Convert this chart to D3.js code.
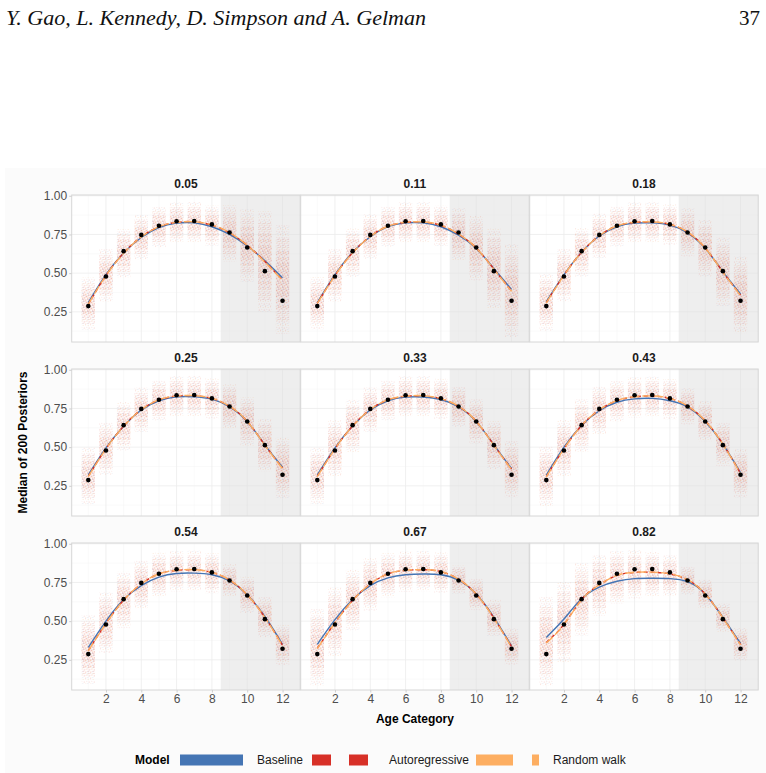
<!DOCTYPE html>
<html>
<head>
<meta charset="utf-8">
<script src="https://cdn.jsdelivr.net/npm/d3@7"></script>
<style>
  body { margin: 0; background: #fff; }
  svg { display: block; }
  text { font-family: "Liberation Sans", Arial, sans-serif; }
</style>
</head>
<body>
<div id="chart"></div>
<script>
// ---- data ----
var ages = [1, 2, 3, 4, 5, 6, 7, 8, 9, 10, 11, 12];
var panelLabels = ["0.05", "0.11", "0.18", "0.25", "0.33", "0.43", "0.54", "0.67", "0.82"];
var observed = [0.287, 0.478, 0.642, 0.747, 0.806, 0.835, 0.837, 0.815, 0.763, 0.666, 0.513, 0.322];

var baseline = [
  [0.31, 0.49, 0.63, 0.73, 0.795, 0.823, 0.825, 0.80, 0.75, 0.675, 0.58, 0.47],
  [0.31, 0.49, 0.635, 0.735, 0.80, 0.825, 0.825, 0.80, 0.745, 0.66, 0.53, 0.395],
  [0.315, 0.49, 0.635, 0.74, 0.80, 0.823, 0.825, 0.81, 0.76, 0.66, 0.51, 0.365],
  [0.32, 0.495, 0.635, 0.74, 0.80, 0.825, 0.826, 0.81, 0.76, 0.665, 0.515, 0.37],
  [0.32, 0.495, 0.636, 0.74, 0.80, 0.823, 0.824, 0.808, 0.76, 0.665, 0.515, 0.362],
  [0.32, 0.50, 0.64, 0.735, 0.79, 0.812, 0.815, 0.80, 0.76, 0.665, 0.52, 0.335],
  [0.33, 0.50, 0.64, 0.73, 0.785, 0.808, 0.81, 0.80, 0.76, 0.67, 0.53, 0.35],
  [0.35, 0.51, 0.64, 0.73, 0.78, 0.80, 0.805, 0.80, 0.765, 0.675, 0.525, 0.34],
  [0.395, 0.514, 0.644, 0.72, 0.758, 0.775, 0.777, 0.775, 0.755, 0.676, 0.524, 0.356]
];
var autoregressive = [
  [0.30, 0.485, 0.63, 0.735, 0.80, 0.828, 0.832, 0.81, 0.76, 0.68, 0.575, 0.455],
  [0.305, 0.485, 0.632, 0.738, 0.803, 0.828, 0.83, 0.808, 0.752, 0.662, 0.527, 0.385],
  [0.31, 0.487, 0.635, 0.742, 0.805, 0.828, 0.83, 0.815, 0.765, 0.662, 0.508, 0.358],
  [0.312, 0.49, 0.636, 0.742, 0.805, 0.83, 0.832, 0.815, 0.763, 0.667, 0.513, 0.365],
  [0.312, 0.49, 0.637, 0.743, 0.805, 0.829, 0.831, 0.813, 0.763, 0.667, 0.513, 0.358],
  [0.31, 0.49, 0.64, 0.74, 0.80, 0.825, 0.83, 0.815, 0.765, 0.67, 0.52, 0.33],
  [0.31, 0.485, 0.635, 0.74, 0.805, 0.828, 0.832, 0.815, 0.765, 0.67, 0.525, 0.345],
  [0.325, 0.49, 0.635, 0.74, 0.805, 0.828, 0.832, 0.82, 0.77, 0.675, 0.52, 0.335],
  [0.362, 0.48, 0.64, 0.735, 0.795, 0.815, 0.816, 0.805, 0.767, 0.676, 0.522, 0.35]
];
var randomWalk = [
  [0.30, 0.484, 0.628, 0.734, 0.80, 0.828, 0.832, 0.812, 0.762, 0.68, 0.572, 0.452],
  [0.304, 0.484, 0.631, 0.737, 0.803, 0.829, 0.831, 0.81, 0.753, 0.662, 0.525, 0.382],
  [0.308, 0.486, 0.634, 0.741, 0.805, 0.829, 0.831, 0.816, 0.766, 0.662, 0.507, 0.355],
  [0.31, 0.489, 0.635, 0.742, 0.806, 0.831, 0.833, 0.816, 0.764, 0.667, 0.512, 0.362],
  [0.31, 0.489, 0.636, 0.743, 0.806, 0.83, 0.832, 0.814, 0.764, 0.667, 0.512, 0.355],
  [0.308, 0.489, 0.64, 0.741, 0.802, 0.826, 0.831, 0.816, 0.766, 0.67, 0.519, 0.328],
  [0.308, 0.484, 0.635, 0.741, 0.806, 0.829, 0.833, 0.816, 0.766, 0.67, 0.524, 0.342],
  [0.322, 0.488, 0.634, 0.741, 0.806, 0.829, 0.833, 0.821, 0.771, 0.675, 0.519, 0.332],
  [0.358, 0.478, 0.638, 0.735, 0.796, 0.816, 0.817, 0.806, 0.768, 0.676, 0.521, 0.347]
];
// half-height of the posterior cloud at each age
var cloudSpread = [
  [0.13, 0.13, 0.12, 0.11, 0.10, 0.10, 0.10, 0.10, 0.14, 0.18, 0.25, 0.27],
  [0.13, 0.13, 0.12, 0.11, 0.10, 0.10, 0.10, 0.10, 0.13, 0.16, 0.20, 0.23],
  [0.14, 0.13, 0.12, 0.11, 0.10, 0.10, 0.10, 0.10, 0.12, 0.14, 0.17, 0.19],
  [0.14, 0.13, 0.12, 0.11, 0.10, 0.10, 0.10, 0.10, 0.11, 0.12, 0.13, 0.15],
  [0.14, 0.14, 0.13, 0.11, 0.10, 0.10, 0.10, 0.10, 0.10, 0.11, 0.12, 0.14],
  [0.15, 0.14, 0.13, 0.12, 0.10, 0.10, 0.10, 0.10, 0.09, 0.10, 0.11, 0.12],
  [0.17, 0.15, 0.14, 0.12, 0.11, 0.10, 0.10, 0.10, 0.08, 0.09, 0.10, 0.10],
  [0.19, 0.17, 0.15, 0.13, 0.11, 0.10, 0.10, 0.10, 0.07, 0.08, 0.09, 0.09],
  [0.22, 0.20, 0.18, 0.15, 0.13, 0.12, 0.11, 0.10, 0.07, 0.07, 0.07, 0.08]
];
var heldOutFrom = 8.5;
var xTicks = [2, 4, 6, 8, 10, 12];
var yTicks = [0.25, 0.50, 0.75, 1.00];

var models = [
  {name: "Baseline", values: baseline, color: "#4575b4", dash: null},
  {name: "Autoregressive", values: autoregressive, color: "#d73027", dash: "4,3"},
  {name: "Random walk", values: randomWalk, color: "#fdae61", dash: "9,3"}
];

// ---- layout ----
var W = 766, H = 773;
var colLeft = [71.7, 300.7, 529.7], panelW = 228.5;
var rowTop = [195, 369, 543], panelH = 147;

var svg = d3.select("#chart").append("svg")
  .attr("width", W).attr("height", H);

svg.append("rect").attr("x", 5).attr("y", 168).attr("width", W - 5).attr("height", H - 168)
  .attr("fill", "#fbfbfb");

// page header
svg.append("text").attr("x", 6).attr("y", 25)
  .style("font-family", "'Liberation Serif', 'DejaVu Serif', serif")
  .style("font-style", "italic").style("font-size", "21px").attr("fill", "#111")
  .attr("textLength", 420).attr("lengthAdjust", "spacingAndGlyphs")
  .text("Y. Gao, L. Kennedy, D. Simpson and A. Gelman");
svg.append("text").attr("x", 760).attr("y", 25).attr("text-anchor", "end")
  .style("font-family", "'Liberation Serif', 'DejaVu Serif', serif")
  .style("font-size", "21px").attr("fill", "#111").text("37");

// speckle patterns for the posterior draws
var defs = svg.append("defs");
var speckColors = ["#e0533d", "#f7a35c", "#e98b8b", "#d73027", "#f4a582", "#9aa7d0"];
var layers = [[1.3, 0.28], [1.0, 0.42], [0.7, 0.45], [0.42, 0.45]];
[[0, 0], [1.6, 2.1], [3.1, 0.9], [2.2, 4.1]].forEach(function (off, k) {
  var p = defs.append("pattern").attr("id", "speck" + k)
    .attr("patternUnits", "userSpaceOnUse").attr("width", 5).attr("height", 6)
    .attr("patternTransform", "translate(" + off[0] + "," + off[1] + ")");
  [[0.6, 0.7], [3.1, 1.4], [1.8, 3.3], [4.2, 4.0], [0.9, 5.2], [2.9, 5.6]].forEach(function (d, i) {
    p.append("circle").attr("cx", d[0]).attr("cy", d[1]).attr("r", 0.5)
      .attr("fill", speckColors[(i + k) % speckColors.length]);
  });
});

var x = d3.scaleLinear().domain([0.06, 13.0]);
var y = d3.scaleLinear().domain([0.055, 1.005]);

panelLabels.forEach(function (label, p) {
  var col = p % 3, row = Math.floor(p / 3);
  var x0 = colLeft[col], y0 = rowTop[row];
  x.range([x0, x0 + panelW]);
  y.range([y0 + panelH, y0]);
  var g = svg.append("g");

  g.append("rect").attr("x", x0).attr("y", y0).attr("width", panelW).attr("height", panelH)
    .attr("fill", "#fff");

  // minor / major grid
  var minorX = [1, 3, 5, 7, 9, 11, 13], minorY = [0.125, 0.375, 0.625, 0.875];
  g.selectAll(".mx").data(minorX).enter().append("line")
    .attr("x1", d => x(d)).attr("x2", d => x(d)).attr("y1", y0).attr("y2", y0 + panelH)
    .attr("stroke", "#f4f4f4").attr("stroke-width", 0.5);
  g.selectAll(".my").data(minorY).enter().append("line")
    .attr("y1", d => y(d)).attr("y2", d => y(d)).attr("x1", x0).attr("x2", x0 + panelW)
    .attr("stroke", "#f4f4f4").attr("stroke-width", 0.5);
  g.selectAll(".gx").data(xTicks).enter().append("line")
    .attr("x1", d => x(d)).attr("x2", d => x(d)).attr("y1", y0).attr("y2", y0 + panelH)
    .attr("stroke", "#ececec").attr("stroke-width", 0.8);
  g.selectAll(".gy").data(yTicks).enter().append("line")
    .attr("y1", d => y(d)).attr("y2", d => y(d)).attr("x1", x0).attr("x2", x0 + panelW)
    .attr("stroke", "#ececec").attr("stroke-width", 0.8);

  // held-out region
  g.append("rect").attr("x", x(heldOutFrom)).attr("y", y0)
    .attr("width", x0 + panelW - x(heldOutFrom)).attr("height", panelH)
    .attr("fill", "#dedede").attr("fill-opacity", 0.5);

  // posterior clouds
  var centers = ages.map(function (a, i) {
    return (baseline[p][i] + autoregressive[p][i] + randomWalk[p][i]) / 3;
  });
  layers.forEach(function (L, k) {
    var f = L[0];
    g.selectAll(".cloud" + k).data(ages).enter().append("rect")
      .attr("x", d => x(d - 0.38)).attr("width", d => x(d + 0.38) - x(d - 0.38))
      .attr("y", (d, i) => y(Math.min(1.0, centers[i] + cloudSpread[p][i] * f)))
      .attr("height", (d, i) => y(centers[i] - cloudSpread[p][i] * f) - y(Math.min(1.0, centers[i] + cloudSpread[p][i] * f)))
      .attr("fill", "url(#speck" + k + ")").attr("opacity", L[1]);
  });

  // model curves
  models.forEach(function (m) {
    var line = d3.line().curve(d3.curveNatural)
      .x((d, i) => x(ages[i])).y(d => y(d));
    g.append("path").attr("d", line(m.values[p]))
      .attr("fill", "none").attr("stroke", m.color).attr("stroke-width", 1.4)
      .attr("stroke-dasharray", m.dash);
  });

  // observed medians
  g.selectAll(".obs").data(observed).enter().append("circle")
    .attr("cx", (d, i) => x(ages[i])).attr("cy", d => y(d)).attr("r", 2.3)
    .attr("fill", "#000");

  g.append("rect").attr("x", x0).attr("y", y0).attr("width", panelW).attr("height", panelH)
    .attr("fill", "none").attr("stroke", "#d6d6d6").attr("stroke-width", 1);

  // strip title
  svg.append("text").attr("x", x0 + panelW / 2).attr("y", y0 - 7)
    .attr("text-anchor", "middle").style("font-weight", "bold").style("font-size", "12px")
    .attr("fill", "#1a1a1a").text(label);

  // axes
  if (col === 0) {
    var ya = svg.append("g").attr("transform", "translate(" + x0 + ",0)")
      .call(d3.axisLeft(y).tickValues(yTicks).tickFormat(d3.format(".2f")).tickSize(2.5).tickPadding(2));
    ya.select(".domain").remove();
    ya.selectAll("line").attr("stroke", "#cfcfcf");
    ya.selectAll("text").style("fill", "#4d4d4d").style("font-size", "12px")
      .style("font-family", "'Liberation Sans', Arial, sans-serif");
  }
  if (row === 2) {
    var xa = svg.append("g").attr("transform", "translate(0," + (y0 + panelH) + ")")
      .call(d3.axisBottom(x).tickValues(xTicks).tickSize(2.5).tickPadding(2));
    xa.select(".domain").remove();
    xa.selectAll("line").attr("stroke", "#cfcfcf");
    xa.selectAll("text").style("fill", "#4d4d4d").style("font-size", "12px")
      .style("font-family", "'Liberation Sans', Arial, sans-serif");
  }
});

// axis titles
svg.append("text").attr("x", (colLeft[0] + colLeft[2] + panelW) / 2).attr("y", 723)
  .attr("text-anchor", "middle").style("font-weight", "bold").style("font-size", "12px")
  .text("Age Category");
svg.append("text")
  .attr("transform", "translate(27," + (rowTop[0] + rowTop[2] + panelH) / 2 + ") rotate(-90)")
  .attr("text-anchor", "middle").style("font-weight", "bold").style("font-size", "12px")
  .text("Median of 200 Posteriors");

// legend
var legY = 760;
svg.append("text").attr("x", 135).attr("y", legY + 4).style("font-weight", "bold")
  .style("font-size", "12px").text("Model");
var legKeys = [
  {x: 180, w: 63, tx: 257, dash: null},
  {x: 312, w: 56, tx: 389, dash: "19,18"},
  {x: 476, w: 63, tx: 553, dash: "37,19"}
];
models.forEach(function (m, i) {
  var k = legKeys[i];
  svg.append("line").attr("x1", k.x).attr("x2", k.x + k.w).attr("y1", legY).attr("y2", legY)
    .attr("stroke", m.color).attr("stroke-width", 11).attr("stroke-dasharray", k.dash);
  svg.append("text").attr("x", k.tx).attr("y", legY + 4).style("font-size", "12px")
    .attr("fill", "#1a1a1a").text(m.name);
});
</script>
</body>
</html>
